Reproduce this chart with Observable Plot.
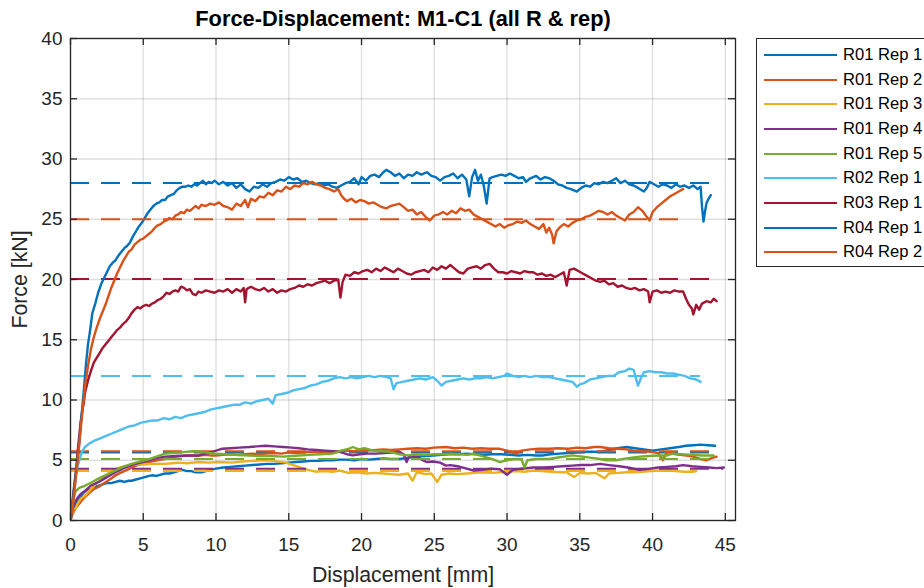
<!DOCTYPE html>
<html>
<head>
<meta charset="utf-8">
<script src="https://cdn.jsdelivr.net/npm/d3@7"></script>
<script src="https://cdn.jsdelivr.net/npm/@observablehq/plot@0.6"></script>
<style>
  html, body { margin: 0; padding: 0; background: #fff; overflow: hidden; }
  #wrap { position: relative; width: 924px; height: 588px; overflow: hidden; font-family: "Liberation Sans", Arial, Helvetica, sans-serif; }
  #legend { position: absolute; left: 756px; top: 38px; width: 200px; height: 229px; border: 1px solid #262626; background: #fff; box-sizing: border-box; }
  .lg-row { position: absolute; left: 0; height: 20px; }
  .lg-line { position: absolute; left: 7px; width: 73px; top: 9px; height: 2px; }
  .lg-text { position: absolute; left: 86px; top: 0; font-size: 16.6px; line-height: 20px; color: #000; white-space: nowrap; }
</style>
</head>
<body>
<div id="wrap"></div>
<script>
// ---- data ----
const names = ["R01 Rep 1","R01 Rep 2","R01 Rep 3","R01 Rep 4","R01 Rep 5","R02 Rep 1","R03 Rep 1","R04 Rep 1","R04 Rep 2"];
const colors = ["#0072BD","#D95319","#EDB120","#7E2F8E","#77AC30","#4DBEEE","#A2142F","#0072BD","#D95319"];
const meanForce = [5.65, 5.75, 4.1, 4.3, 5.1, 12.0, 20.05, 28.0, 25.0];
const meanEnd = [44.3, 44.4, 43.0, 44.9, 44.2, 43.3, 44.4, 44.0, 42.1];
const xTicks = [0,5,10,15,20,25,30,35,40,45];
const yTicks = [0,5,10,15,20,25,30,35,40];
const titleText = "Force-Displacement: M1-C1 (all R & rep)";
const xLabel = "Displacement [mm]";
const yLabel = "Force [kN]";

const r01rep1 = [[0,0],[0.1,0.6],[0.2,1.0],[0.35,1.4],[0.5,1.7],[0.7,2.0],[0.9,2.3],[1.1,2.5],[1.3,2.6],[1.5,2.6],[1.7,2.8],[1.95,2.9],[2.2,3.0],[2.5,3.1],[2.8,3.1],[3.1,3.2],[3.4,3.3],[3.7,3.2],[4.0,3.3],[4.2,3.3],[4.5,3.4],[4.8,3.5],[5.1,3.6],[5.4,3.7],[5.6,3.75],[5.9,3.7],[6.2,3.8],[6.5,3.9],[6.8,3.9],[7.1,4.0],[7.4,4.1],[7.7,4.2],[8.0,4.1],[8.3,4.1],[8.6,4.0],[9.0,4.0],[9.3,4.1],[9.6,4.2],[10.0,4.3],[10.5,4.4],[11.0,4.45],[11.5,4.5],[12.0,4.55],[12.5,4.6],[13.0,4.65],[13.5,4.7],[14.0,4.7],[14.5,4.75],[15.0,4.8],[15.5,4.85],[16.0,4.9],[16.5,4.95],[17.0,4.95],[17.5,5.0],[18.0,5.0],[18.5,5.05],[19.0,5.05],[19.5,5.0],[20.0,5.1],[20.5,5.05],[21.0,5.1],[21.5,5.15],[22.0,5.1],[22.6,5.1],[23.2,5.2],[23.8,5.3],[24.4,5.35],[24.9,5.4],[25.5,5.45],[26.0,5.5],[26.6,5.5],[27.2,5.55],[27.8,5.5],[28.4,5.45],[29.0,5.5],[29.6,5.5],[30.2,5.45],[30.8,5.4],[31.4,5.45],[32.0,5.4],[32.5,5.4],[33.0,5.5],[33.6,5.55],[34.2,5.6],[34.8,5.65],[35.4,5.7],[36.0,5.7],[36.4,5.7],[37.0,5.85],[37.6,6.0],[38.2,6.1],[38.8,6.0],[39.4,5.9],[40.0,5.8],[40.6,5.9],[41.2,6.0],[41.8,6.1],[42.3,6.2],[42.8,6.25],[43.3,6.3],[43.8,6.25],[44.3,6.2]];

const r01rep2 = [[0,0],[0.1,0.4],[0.25,0.8],[0.4,1.1],[0.6,1.4],[0.8,1.7],[1.0,1.95],[1.3,2.3],[1.6,2.6],[1.95,2.8],[2.3,3.1],[2.7,3.4],[3.1,3.75],[3.5,4.0],[3.9,4.2],[4.2,4.4],[4.6,4.6],[5.0,4.75],[5.4,4.85],[5.8,4.95],[6.2,5.05],[6.5,5.1],[6.9,5.2],[7.3,5.3],[7.7,5.35],[8.2,5.4],[8.7,5.35],[9.2,5.45],[9.6,5.4],[10.0,5.4],[10.5,5.45],[11.0,5.5],[11.5,5.45],[12.0,5.5],[12.5,5.55],[13.0,5.5],[13.4,5.55],[14.0,5.6],[14.5,5.55],[15.0,5.65],[15.5,5.6],[16.0,5.65],[16.5,5.7],[17.0,5.65],[17.5,5.7],[18.0,5.7],[18.5,5.75],[19.0,5.8],[19.5,5.75],[20.0,5.85],[20.5,5.8],[21.0,5.85],[21.5,5.9],[22.0,5.85],[22.6,5.9],[23.2,5.95],[23.8,6.0],[24.4,5.95],[25.0,6.05],[25.8,6.1],[26.4,6.0],[27.0,6.05],[27.6,5.95],[28.2,6.0],[28.8,5.95],[29.5,5.95],[30.0,5.8],[30.6,5.55],[31.0,5.8],[31.6,5.9],[32.2,5.95],[32.9,5.95],[33.5,6.0],[34.2,5.95],[34.8,6.05],[35.4,6.0],[36.0,6.1],[36.4,6.1],[37.0,6.0],[37.6,5.95],[38.2,5.9],[38.7,5.8],[39.3,5.75],[39.9,5.7],[40.4,5.6],[40.7,5.0],[41.0,5.7],[41.6,5.5],[42.2,5.4],[42.8,5.3],[43.3,5.1],[43.7,5.0],[44.1,5.2],[44.4,5.3]];

const r01rep3 = [[0,0],[0.1,0.5],[0.2,0.9],[0.34,1.0],[0.5,1.4],[0.7,1.8],[1.03,2.1],[1.4,2.6],[1.8,3.1],[2.2,3.5],[2.6,3.9],[3.0,4.2],[3.4,4.4],[3.8,4.5],[4.2,4.6],[4.6,4.65],[5.0,4.65],[5.5,4.7],[6.0,4.7],[6.5,4.7],[7.0,4.75],[7.5,4.8],[8.0,4.75],[8.8,4.85],[9.5,4.8],[10.2,4.85],[11.1,4.8],[11.8,4.9],[12.5,4.95],[13.4,5.0],[14.0,4.95],[14.8,4.8],[15.3,4.6],[15.8,4.4],[16.3,4.2],[16.85,4.05],[17.4,4.1],[18.0,4.05],[18.5,4.15],[19.1,3.95],[19.7,4.0],[20.3,3.9],[20.9,3.95],[21.5,3.9],[22.0,3.85],[22.6,3.8],[23.2,3.9],[23.5,3.3],[23.8,4.0],[24.4,3.85],[24.8,3.9],[25.2,3.2],[25.5,3.8],[26.0,3.9],[26.6,3.85],[27.2,3.9],[27.8,3.95],[28.4,4.0],[29.0,3.95],[29.5,4.0],[30.0,4.05],[30.6,4.1],[31.2,4.05],[31.8,4.15],[32.4,4.1],[33.0,4.05],[33.6,4.0],[34.1,4.0],[34.6,3.6],[35.0,3.95],[35.6,3.9],[36.1,3.95],[36.7,3.5],[37.0,3.9],[37.6,3.95],[38.2,4.0],[38.7,4.0],[39.3,4.05],[39.9,4.1],[40.5,4.15],[41.0,4.15],[41.6,4.1],[42.2,4.05],[42.8,4.05],[43.0,4.1]];

const r01rep4 = [[0,0],[0.1,0.7],[0.2,1.2],[0.35,1.6],[0.5,1.9],[0.7,2.2],[1.03,2.5],[1.4,2.9],[1.95,3.2],[2.5,3.6],[3.1,4.0],[3.6,4.3],[4.2,4.6],[4.8,4.8],[5.4,5.0],[6.0,5.2],[6.5,5.3],[7.2,5.35],[8.0,5.4],[8.8,5.4],[9.5,5.6],[10.0,5.8],[10.4,5.95],[11.0,6.0],[11.6,6.05],[12.3,6.1],[12.8,6.15],[13.4,6.2],[14.0,6.15],[14.6,6.1],[15.2,6.05],[15.7,6.0],[16.3,5.9],[16.9,5.85],[17.5,5.8],[18.0,5.75],[18.5,5.7],[19.0,5.5],[19.4,5.4],[19.9,5.5],[20.4,5.55],[21.0,5.55],[21.6,5.6],[22.1,5.65],[22.6,5.7],[22.9,5.5],[23.1,4.85],[23.3,5.4],[23.8,5.3],[24.2,5.0],[24.5,4.85],[24.9,4.9],[25.4,4.8],[25.8,4.55],[26.1,4.6],[26.6,4.5],[27.1,4.35],[27.7,4.15],[28.3,4.2],[28.9,4.3],[29.5,4.25],[30.0,3.8],[30.4,4.2],[31.0,4.3],[31.8,4.4],[32.5,4.4],[33.2,4.45],[33.8,4.5],[34.5,4.55],[35.1,4.6],[35.7,4.6],[36.4,4.7],[37.0,4.6],[37.7,4.5],[38.3,4.4],[39.1,4.2],[39.8,4.3],[40.4,4.4],[41.0,4.45],[41.6,4.5],[42.1,4.6],[42.7,4.5],[43.3,4.45],[43.9,4.4],[44.4,4.35],[44.9,4.4]];

const r01rep5 = [[0,0],[0.1,1.0],[0.2,1.7],[0.34,2.4],[0.6,2.7],[1.03,2.9],[1.5,3.2],[1.95,3.5],[2.5,3.8],[3.1,4.15],[3.6,4.45],[4.2,4.7],[4.8,4.9],[5.4,5.1],[6.0,5.35],[6.5,5.55],[7.0,5.6],[7.6,5.65],[8.4,5.75],[9.0,5.7],[9.5,5.6],[10.0,5.55],[10.6,5.5],[11.2,5.45],[12.3,5.4],[13.0,5.35],[13.8,5.35],[14.6,5.3],[15.2,5.35],[15.7,5.4],[16.4,5.45],[17.2,5.5],[18.0,5.55],[18.6,5.8],[19.1,5.95],[19.4,6.1],[19.8,5.9],[20.2,6.0],[20.8,5.8],[21.4,5.75],[22.0,5.7],[22.6,5.5],[23.2,5.4],[23.8,5.5],[24.4,5.45],[25.0,5.5],[25.6,5.5],[26.1,5.55],[26.7,5.5],[27.3,5.45],[27.7,5.55],[28.4,5.3],[29.0,5.1],[29.5,4.85],[30.0,5.0],[30.6,5.1],[31.0,5.05],[31.2,4.4],[31.4,5.0],[32.0,5.1],[32.9,5.1],[33.6,5.25],[34.5,5.4],[35.2,5.3],[35.8,5.2],[36.4,5.1],[36.8,5.0],[37.5,5.0],[38.2,5.15],[39.1,5.3],[39.8,5.35],[40.4,5.4],[41.0,5.4],[41.4,5.55],[42.0,5.5],[42.7,5.45],[43.4,5.4],[44.2,5.4]];

const r02rep1 = [[0,0],[0.1,1.2],[0.2,2.4],[0.3,3.4],[0.45,4.3],[0.6,5.0],[0.8,5.7],[1.0,6.1],[1.3,6.4],[1.6,6.6],[2.0,6.8],[2.4,7.0],[2.8,7.2],[3.2,7.4],[3.6,7.6],[4.0,7.8],[4.4,7.9],[4.8,8.1],[5.2,8.2],[5.6,8.3],[6.0,8.3],[6.4,8.5],[6.8,8.4],[7.2,8.6],[7.6,8.5],[8.0,8.7],[8.4,8.8],[8.8,8.9],[9.2,9.0],[9.6,9.2],[10.0,9.3],[10.4,9.4],[10.8,9.5],[11.2,9.6],[11.6,9.6],[12.0,9.8],[12.4,9.7],[12.8,9.9],[13.2,10.0],[13.6,10.1],[13.9,9.7],[14.1,10.4],[14.5,10.5],[14.9,10.6],[15.3,10.8],[15.7,10.9],[16.1,11.0],[16.5,11.2],[16.9,11.3],[17.3,11.5],[17.7,11.6],[18.1,11.8],[18.5,11.9],[18.9,11.8],[19.3,11.9],[19.7,11.8],[20.1,11.9],[20.5,12.0],[20.9,11.9],[21.3,12.0],[21.7,11.9],[22.0,11.8],[22.2,10.9],[22.4,11.4],[22.8,11.5],[23.2,11.6],[23.6,11.7],[24.0,11.8],[24.4,11.7],[24.9,11.9],[25.2,11.6],[25.5,11.2],[25.8,11.5],[26.2,11.6],[26.6,11.7],[27.0,11.8],[27.4,11.7],[27.8,11.8],[28.2,11.8],[28.6,11.9],[29.0,11.8],[29.4,11.9],[29.8,12.0],[30.0,12.2],[30.4,12.0],[30.8,11.9],[31.2,12.0],[31.6,11.9],[32.0,12.0],[32.4,11.9],[32.9,11.9],[33.3,11.8],[33.7,11.7],[34.1,11.6],[34.5,11.5],[34.8,11.1],[35.0,11.3],[35.3,11.4],[35.7,11.7],[36.1,11.8],[36.5,11.9],[36.9,12.0],[37.3,12.0],[37.7,12.3],[38.1,12.4],[38.4,12.6],[38.7,12.5],[38.9,11.6],[39.0,11.2],[39.2,11.8],[39.4,12.3],[39.8,12.4],[40.2,12.3],[40.6,12.3],[41.0,12.2],[41.4,12.2],[41.8,12.1],[42.2,12.0],[42.6,11.8],[43.0,11.7],[43.3,11.5]];

const r03rep1 = [[0,0],[0.1,1.0],[0.2,2.2],[0.3,3.3],[0.4,4.4],[0.5,5.8],[0.6,7.0],[0.7,8.2],[0.8,9.0],[0.9,9.7],[1.0,10.6],[1.2,11.6],[1.4,12.4],[1.6,13.1],[1.8,13.5],[2.0,13.9],[2.2,14.3],[2.4,14.6],[2.6,14.9],[2.8,15.2],[3.0,15.5],[3.2,15.8],[3.4,16.0],[3.6,16.3],[3.8,16.5],[4.0,16.8],[4.2,17.2],[4.4,17.5],[4.6,17.7],[4.8,17.6],[5.0,17.8],[5.2,17.9],[5.4,17.8],[5.6,18.0],[5.8,18.1],[6.0,18.3],[6.2,18.4],[6.4,18.6],[6.6,18.9],[6.8,18.8],[7.0,19.0],[7.2,19.1],[7.4,19.0],[7.6,19.4],[7.8,19.3],[8.0,19.1],[8.2,19.2],[8.4,18.8],[8.6,18.7],[8.8,19.0],[9.0,18.9],[9.3,19.1],[9.6,19.0],[9.9,18.9],[10.2,19.1],[10.5,19.0],[10.8,19.2],[11.1,18.9],[11.4,19.2],[11.7,19.0],[11.9,19.3],[12.0,18.1],[12.1,19.2],[12.4,19.4],[12.7,19.2],[13.0,19.1],[13.3,19.3],[13.6,19.0],[13.9,19.2],[14.2,18.9],[14.5,19.1],[14.8,19.0],[15.1,19.2],[15.4,19.3],[15.7,19.5],[16.0,19.4],[16.3,19.6],[16.6,19.5],[16.9,19.7],[17.2,19.8],[17.5,19.9],[17.8,19.7],[18.1,19.9],[18.4,20.0],[18.55,18.5],[18.7,19.8],[18.9,20.4],[19.2,20.3],[19.5,20.6],[19.8,20.5],[20.1,20.7],[20.4,20.8],[20.7,20.6],[21.0,20.9],[21.3,20.7],[21.6,21.0],[21.9,20.8],[22.2,20.6],[22.5,20.9],[22.8,20.7],[23.1,20.5],[23.4,20.4],[23.7,20.6],[24.0,20.7],[24.3,20.8],[24.6,20.6],[24.9,21.0],[25.2,20.8],[25.5,21.1],[25.8,20.9],[26.1,21.2],[26.4,20.9],[26.7,20.6],[27.0,20.5],[27.3,20.9],[27.6,21.0],[27.9,21.1],[28.2,20.9],[28.5,21.2],[28.8,21.3],[29.1,20.9],[29.4,20.6],[29.7,20.6],[30.0,20.5],[30.3,20.7],[30.6,20.6],[30.9,20.5],[31.2,20.7],[31.5,20.6],[31.8,20.6],[32.1,20.4],[32.4,20.5],[32.7,20.3],[33.0,20.4],[33.3,20.2],[33.6,20.4],[33.9,20.6],[34.1,19.5],[34.3,20.8],[34.6,20.9],[34.9,20.7],[35.2,20.5],[35.5,20.3],[35.8,20.1],[36.1,19.9],[36.4,19.8],[36.7,19.9],[37.0,19.6],[37.3,19.7],[37.6,19.4],[37.9,19.5],[38.2,19.3],[38.5,19.2],[38.8,19.3],[39.1,19.1],[39.4,19.2],[39.7,19.0],[39.8,18.1],[40.0,19.0],[40.3,19.1],[40.6,18.9],[40.9,19.0],[41.2,18.9],[41.5,19.1],[41.8,19.0],[42.1,19.0],[42.3,18.4],[42.5,17.9],[42.7,17.6],[42.8,17.1],[43.0,17.9],[43.2,17.5],[43.4,18.0],[43.7,18.2],[44.0,18.1],[44.2,18.4],[44.4,18.2]];

const r04rep1 = [[0,0],[0.15,1.5],[0.3,3.0],[0.45,4.8],[0.6,6.4],[0.75,8.6],[0.9,10.6],[1.05,12.8],[1.2,14.6],[1.35,15.8],[1.5,17.2],[1.7,18.0],[1.9,18.9],[2.1,19.6],[2.3,20.1],[2.5,20.6],[2.7,21.1],[2.9,21.4],[3.1,21.6],[3.3,22.0],[3.5,22.3],[3.7,22.6],[3.9,22.8],[4.1,23.1],[4.3,23.6],[4.5,24.0],[4.7,24.4],[4.9,24.7],[5.1,25.1],[5.3,25.5],[5.5,25.8],[5.7,26.1],[5.9,26.3],[6.1,26.4],[6.3,26.6],[6.5,26.6],[6.7,26.9],[6.9,27.0],[7.1,27.1],[7.3,27.4],[7.5,27.6],[7.7,27.7],[7.9,27.7],[8.1,27.8],[8.3,27.7],[8.5,27.9],[8.7,27.8],[8.9,28.0],[9.1,28.2],[9.3,27.9],[9.5,28.1],[9.7,28.0],[9.9,28.2],[10.2,27.9],[10.5,28.1],[10.8,27.8],[11.1,28.0],[11.4,27.6],[11.7,27.9],[12.0,27.5],[12.3,27.3],[12.6,27.7],[12.9,27.6],[13.2,27.9],[13.5,27.7],[13.8,28.0],[14.1,28.1],[14.4,28.3],[14.7,28.2],[15.0,28.5],[15.3,28.3],[15.6,28.4],[15.9,28.1],[16.2,28.2],[16.5,28.0],[16.8,27.9],[17.1,28.0],[17.4,27.8],[17.7,27.9],[18.0,27.7],[18.3,27.6],[18.6,27.8],[18.9,28.0],[19.2,28.1],[19.5,28.4],[19.8,27.9],[20.0,28.5],[20.3,28.2],[20.6,28.6],[20.9,28.7],[21.2,28.5],[21.5,28.9],[21.7,29.1],[22.0,28.9],[22.3,28.6],[22.6,28.8],[22.9,28.4],[23.2,28.7],[23.5,28.6],[23.8,28.9],[24.1,28.7],[24.5,28.9],[24.8,28.6],[25.1,28.5],[25.4,28.2],[25.7,28.5],[26.0,28.6],[26.3,28.8],[26.6,28.4],[26.9,28.7],[27.2,28.3],[27.4,26.9],[27.6,28.5],[27.8,29.1],[28.0,28.2],[28.2,28.7],[28.4,27.8],[28.6,26.3],[28.8,28.4],[29.0,28.5],[29.3,28.6],[29.6,28.7],[29.9,28.6],[30.2,28.8],[30.5,28.6],[30.8,28.4],[31.1,28.5],[31.3,28.1],[31.6,28.4],[32.0,28.6],[32.3,28.3],[32.6,28.5],[32.9,28.4],[33.2,28.2],[33.5,27.9],[33.8,27.8],[34.1,27.6],[34.4,27.5],[34.8,27.3],[35.1,27.6],[35.4,27.8],[35.7,27.7],[36.0,28.0],[36.3,27.9],[36.6,28.1],[36.9,28.0],[37.2,28.2],[37.5,28.4],[37.8,28.0],[38.1,28.2],[38.4,27.9],[38.7,27.8],[39.0,27.6],[39.4,27.3],[39.6,27.6],[39.8,28.1],[40.1,27.9],[40.4,27.7],[40.7,27.9],[41.0,27.8],[41.3,27.6],[41.6,27.9],[41.9,27.7],[42.2,27.8],[42.5,27.6],[42.8,27.8],[43.1,27.5],[43.3,27.7],[43.4,26.0],[43.5,24.8],[43.6,25.6],[43.7,26.3],[43.85,26.7],[44.0,27.0]];

const r04rep2 = [[0,0],[0.15,1.3],[0.3,2.8],[0.45,4.5],[0.6,6.3],[0.75,8.2],[0.9,10.0],[1.05,11.6],[1.2,12.8],[1.4,14.2],[1.6,15.2],[1.8,16.0],[2.0,16.7],[2.2,17.3],[2.4,17.9],[2.6,18.6],[2.8,19.3],[3.0,19.9],[3.2,20.5],[3.4,21.0],[3.6,21.5],[3.8,21.9],[4.0,22.3],[4.2,22.5],[4.4,22.9],[4.6,23.1],[4.8,23.3],[5.0,23.4],[5.2,23.6],[5.4,23.8],[5.6,24.0],[5.8,24.3],[6.0,24.5],[6.2,24.6],[6.4,24.8],[6.6,24.9],[6.8,25.1],[7.0,25.0],[7.2,25.3],[7.4,25.4],[7.6,25.6],[7.8,25.5],[8.0,25.8],[8.2,25.7],[8.4,25.9],[8.6,26.1],[8.8,25.9],[9.0,26.2],[9.3,26.1],[9.6,26.3],[9.9,26.2],[10.2,26.4],[10.5,26.1],[10.8,26.0],[11.1,25.8],[11.4,26.3],[11.7,26.1],[12.0,26.6],[12.2,26.0],[12.4,26.7],[12.7,26.5],[13.0,26.9],[13.3,26.8],[13.6,27.2],[13.9,27.0],[14.2,27.4],[14.5,27.3],[14.8,27.7],[15.1,27.5],[15.4,27.8],[15.7,27.7],[16.0,28.0],[16.3,27.9],[16.6,28.1],[16.9,27.9],[17.2,27.8],[17.5,27.6],[17.8,27.5],[18.1,27.3],[18.4,27.5],[18.6,27.0],[18.8,26.7],[19.0,26.5],[19.3,26.7],[19.6,26.4],[19.9,26.6],[20.2,26.5],[20.5,26.3],[20.8,26.4],[21.1,26.2],[21.4,26.0],[21.7,25.9],[22.0,26.1],[22.3,26.2],[22.6,26.3],[22.9,26.0],[23.2,25.7],[23.5,25.8],[23.8,25.4],[24.1,25.6],[24.4,25.2],[24.7,24.9],[25.0,25.3],[25.3,25.4],[25.6,25.6],[25.9,25.4],[26.2,25.7],[26.5,25.5],[26.8,25.9],[27.1,25.7],[27.4,25.8],[27.7,25.4],[28.0,25.2],[28.3,25.0],[28.6,24.8],[28.9,24.6],[29.2,24.4],[29.5,24.6],[29.8,24.3],[30.1,24.5],[30.4,24.6],[30.7,24.8],[31.0,24.7],[31.3,24.9],[31.6,24.6],[31.9,24.4],[32.2,24.2],[32.5,24.6],[32.7,23.9],[32.9,24.3],[33.1,23.7],[33.2,23.0],[33.4,24.0],[33.6,24.3],[33.9,24.6],[34.2,24.4],[34.5,24.7],[34.8,24.9],[35.1,25.0],[35.4,25.2],[35.7,25.3],[36.0,25.5],[36.3,25.7],[36.6,25.6],[36.9,25.4],[37.2,25.6],[37.5,25.3],[37.8,25.1],[38.1,24.9],[38.4,25.4],[38.7,25.6],[39.0,26.0],[39.3,25.7],[39.6,25.2],[39.8,24.9],[40.0,25.6],[40.3,26.0],[40.6,26.3],[40.9,26.6],[41.2,26.9],[41.5,27.1],[41.8,27.3],[42.1,27.5]];

const seriesData = [r01rep1, r01rep2, r01rep3, r01rep4, r01rep5, r02rep1, r03rep1, r04rep1, r04rep2];

// ---- chart ----
const W = 924, H = 588;
const mLeft = 70, mRight = 189, mTop = 38, mBottom = 68;
const innerW = W - mLeft - mRight, innerH = H - mTop - mBottom;
const axisColor = "#262626";
const tickLen = 7;

const marks = [
  Plot.gridX(xTicks, {stroke: axisColor, strokeOpacity: 0.15, strokeWidth: 1.3}),
  Plot.gridY(yTicks, {stroke: axisColor, strokeOpacity: 0.15, strokeWidth: 1.3})
];

seriesData.forEach((data, i) => {
  const rows = data.map(([x, y]) => ({x, y}));
  marks.push(Plot.line(rows, {x: "x", y: "y", stroke: colors[i], strokeWidth: 2.4, strokeLinejoin: "round", clip: true}));
  marks.push(Plot.ruleY([{f: meanForce[i], e: meanEnd[i]}], {y: "f", x1: 0, x2: "e", stroke: colors[i], strokeWidth: 2, strokeDasharray: "19,12"}));
});

marks.push(
  Plot.tickX(xTicks, {x: d => d, stroke: axisColor, strokeWidth: 1.3, insetTop: innerH - tickLen}),
  Plot.tickX(xTicks, {x: d => d, stroke: axisColor, strokeWidth: 1.3, insetBottom: innerH - tickLen}),
  Plot.tickY(yTicks, {y: d => d, stroke: axisColor, strokeWidth: 1.3, insetRight: innerW - tickLen}),
  Plot.tickY(yTicks, {y: d => d, stroke: axisColor, strokeWidth: 1.3, insetLeft: innerW - tickLen}),
  Plot.frame({stroke: axisColor, strokeWidth: 1.3}),
  Plot.axisX(xTicks, {tickSize: 0, tickPadding: 17, label: null, fontSize: 19, fill: axisColor}),
  Plot.axisY(yTicks, {tickSize: 0, tickPadding: 8, label: null, fontSize: 19, fill: axisColor}),
  Plot.text([titleText], {text: d => d, frameAnchor: "top", dy: -19, lineAnchor: "middle", fontWeight: "bold", fontSize: 21.8, fill: "#000"}),
  Plot.text([xLabel], {text: d => d, frameAnchor: "bottom", dy: 55, lineAnchor: "middle", fontSize: 21.3, fill: axisColor}),
  Plot.text([yLabel], {text: d => d, frameAnchor: "left", dx: -50, rotate: -90, textAnchor: "middle", lineAnchor: "middle", fontSize: 21.3, fill: axisColor})
);

const chart = Plot.plot({
  width: W, height: H,
  marginLeft: mLeft, marginRight: mRight, marginTop: mTop, marginBottom: mBottom,
  style: {fontFamily: '"Liberation Sans", Arial, Helvetica, sans-serif', background: "#fff", overflow: "visible"},
  x: {domain: [0, 45.7]},
  y: {domain: [0, 40]},
  marks
});
chart.style.position = "absolute";
chart.style.left = "0px";
chart.style.top = "0px";
const wrap = document.getElementById("wrap");
wrap.appendChild(chart);

// legend (HTML, outside the axes)
const legend = document.createElement("div");
legend.id = "legend";
names.forEach((n, i) => {
  const row = document.createElement("div");
  row.className = "lg-row";
  row.style.top = (6 + i * 24.66) + "px";
  row.style.width = "200px";
  const ln = document.createElement("div");
  ln.className = "lg-line";
  ln.style.background = colors[i];
  const tx = document.createElement("div");
  tx.className = "lg-text";
  tx.textContent = n;
  row.appendChild(ln);
  row.appendChild(tx);
  legend.appendChild(row);
});
wrap.appendChild(legend);
</script>
</body>
</html>
